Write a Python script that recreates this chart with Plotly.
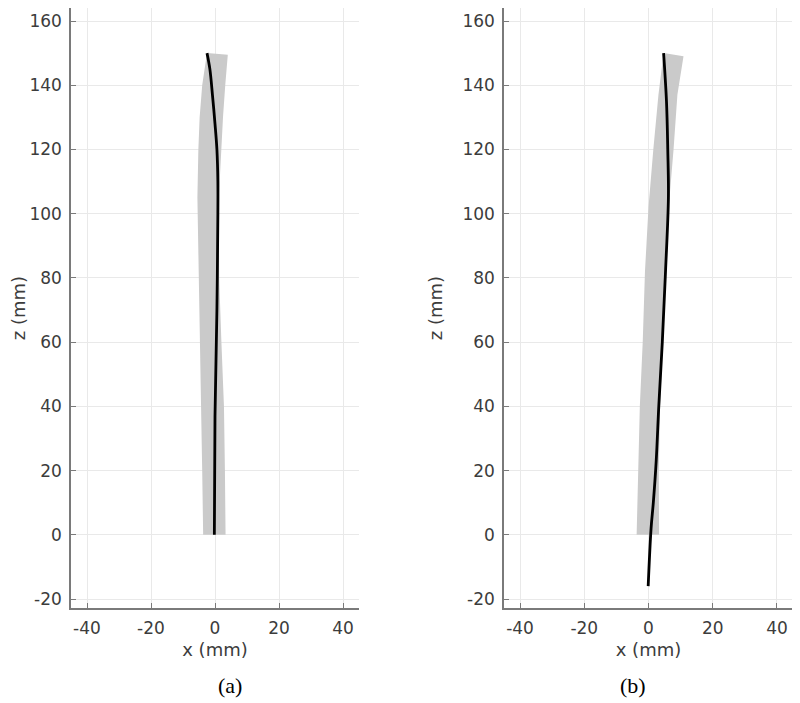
import plotly.graph_objects as go

# panel (a): gray envelope and needle centre line
band_a_z_left = [150, 140, 130, 120, 105, 80, 60, 40, 20, 0]
band_a_left = [-2.5, -4.0, -4.8, -5.2, -5.5, -5.0, -4.7, -4.3, -4.0, -3.7]
band_a_z_right = [149.5, 140, 130, 120, 105, 80, 60, 40, 20, 0]
band_a_right = [4.0, 3.2, 2.5, 1.9, 1.2, 1.3, 2.0, 2.8, 3.1, 3.3]

needle_a_z = [150, 145, 137, 128, 120, 110, 100, 70, 37, 0]
needle_a_x = [-2.5, -1.6, -0.8, 0.0, 0.6, 0.9, 0.9, 0.6, 0.0, -0.2]

# panel (b)
band_b_z_left = [150, 137, 120, 102, 82, 60, 40, 20, 0]
band_b_left = [4.7, 3.1, 1.5, 0.0, -1.1, -1.8, -2.7, -3.2, -3.7]
band_b_z_right = [149, 137, 120, 102, 82, 60, 40, 20, 0]
band_b_right = [10.9, 9.0, 7.8, 6.3, 5.5, 4.5, 3.6, 3.2, 3.3]

needle_b_z = [150, 135, 120, 105, 82, 60, 40, 23, 10, 2, -16]
needle_b_x = [4.7, 5.6, 6.0, 6.2, 5.3, 4.3, 3.2, 2.4, 1.5, 0.8, -0.1]

x_ticks = [-40, -20, 0, 20, 40]
x_tick_text = ["-40", "-20", "0", "20", "40"]
z_ticks = [-20, 0, 20, 40, 60, 80, 100, 120, 140, 160]
z_tick_text = ["-20", "0", "20", "40", "60", "80", "100", "120", "140", "160"]
panel_labels = ["(a)", "(b)"]

BAND = "#cacaca"
TICK_FONT = dict(family="DejaVu Sans", size=17, color="#3c3c3c")
TITLE_FONT = dict(family="DejaVu Sans", size=18, color="#3c3c3c")

# page body has an 8px margin, so the figure is a bit smaller than the window
W, H = 792, 695

fig = go.Figure()


def add_panel(xa, ya, zl, xl, zr, xr, nz, nx):
    # envelope polygon: down the left edge, back up the right edge
    px = xl + xr[::-1]
    pz = zl + zr[::-1]
    fig.add_trace(go.Scatter(x=px, y=pz, fill="toself", fillcolor=BAND,
                             line=dict(width=0), mode="lines",
                             xaxis=xa, yaxis=ya, hoverinfo="skip"))
    fig.add_trace(go.Scatter(x=nx, y=nz, mode="lines",
                             line=dict(color="black", width=2.8, shape="spline"),
                             xaxis=xa, yaxis=ya))


add_panel("x", "y", band_a_z_left, band_a_left, band_a_z_right, band_a_right,
          needle_a_z, needle_a_x)
add_panel("x2", "y2", band_b_z_left, band_b_left, band_b_z_right, band_b_right,
          needle_b_z, needle_b_x)

xaxis_style = dict(range=[-45, 45], tickvals=x_ticks, ticktext=x_tick_text,
                   showgrid=True, gridcolor="#e9e9e9", gridwidth=1, zeroline=False,
                   showline=True, linecolor="#7a7a7a", linewidth=1.5,
                   ticks="inside", ticklen=5, tickcolor="#7a7a7a",
                   tickfont=TICK_FONT, ticklabelstandoff=4, automargin=False,
                   title=dict(text="x (mm)", font=TITLE_FONT, standoff=6))
yaxis_style = dict(range=[-22.8, 164.05], tickvals=z_ticks, ticktext=z_tick_text,
                   showgrid=True, gridcolor="#e9e9e9", gridwidth=1, zeroline=False,
                   showline=True, linecolor="#7a7a7a", linewidth=1.5,
                   ticks="inside", ticklen=5, tickcolor="#7a7a7a",
                   tickfont=TICK_FONT, ticklabelstandoff=4, automargin=False,
                   domain=[95 / H, 1.0],
                   title=dict(text="z (mm)", font=TITLE_FONT, standoff=15))

fig.update_layout(
    width=W, height=H,
    margin=dict(l=0, r=0, t=0, b=0),
    paper_bgcolor="white", plot_bgcolor="white",
    showlegend=False,
    xaxis=dict(xaxis_style, domain=[63 / W, 351 / W], anchor="y"),
    yaxis=dict(yaxis_style, anchor="x"),
    xaxis2=dict(xaxis_style, domain=[496 / W, 785 / W], anchor="y2"),
    yaxis2=dict(yaxis_style, anchor="x2"),
)

for lbl, xc in zip(panel_labels, [208 / W, 640 / W]):
    fig.add_annotation(text=lbl, x=xc, y=1 - 677 / H, xref="paper", yref="paper",
                       yanchor="middle", showarrow=False,
                       font=dict(family="Liberation Serif", size=22, color="black"))

fig.write_html("out.html")
